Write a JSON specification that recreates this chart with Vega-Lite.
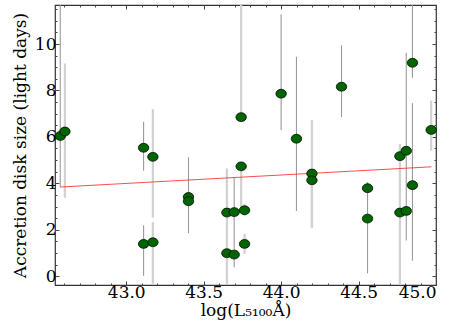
{
  "$schema": "https://vega.github.io/schema/vega-lite/v6.json",
  "width": 381,
  "height": 280,
  "autosize": {"type": "none"},
  "padding": {"left": 55, "top": 5, "right": 27, "bottom": 42},
  "background": "white",
  "config": {
    "view": {"stroke": "#333333", "strokeWidth": 1.2},
    "axis": {
      "grid": false,
      "domain": false,
      "tickColor": "#444444",
      "labelFont": "DejaVu Serif",
      "titleFont": "DejaVu Serif",
      "labelColor": "black",
      "titleColor": "black",
      "labelFontSize": 17,
      "titleFontSize": 17,
      "titleFontWeight": "normal"
    }
  },
  "datasets": {
    "pts": [
      {"x": 42.574, "y": 6.04, "lo": 3.84, "hi": 12.5, "bar": "dark"},
      {"x": 42.604, "y": 6.23, "lo": 3.38, "hi": 9.16, "bar": "light"},
      {"x": 43.112, "y": 5.53, "lo": 4.54, "hi": 6.65, "bar": "dark"},
      {"x": 43.172, "y": 5.14, "lo": 2.52, "hi": 7.19, "bar": "light"},
      {"x": 43.112, "y": 1.39, "lo": 0.02, "hi": 2.19, "bar": "dark"},
      {"x": 43.172, "y": 1.46, "lo": -1, "hi": 2.33, "bar": "light"},
      {"x": 43.402, "y": 3.41, "lo": 3.3, "hi": 5.12, "bar": "dark"},
      {"x": 43.402, "y": 3.23, "lo": 1.85, "hi": 3.3, "bar": "dark"},
      {"x": 43.65, "y": 2.74, "lo": 1.0, "hi": 4.64, "bar": "light"},
      {"x": 43.65, "y": 0.99, "lo": -1, "hi": 1.0, "bar": "light"},
      {"x": 43.697, "y": 2.76, "lo": 1.0, "hi": 4.25, "bar": "dark"},
      {"x": 43.697, "y": 0.93, "lo": 0.38, "hi": 1.0, "bar": "dark"},
      {"x": 43.764, "y": 2.84, "lo": 2.6, "hi": 3.1, "bar": "light"},
      {"x": 43.764, "y": 1.39, "lo": 0.96, "hi": 1.83, "bar": "light"},
      {"x": 43.742, "y": 4.73, "lo": 2.9, "hi": 4.9, "bar": "light"},
      {"x": 43.742, "y": 6.85, "lo": 6.85, "hi": 12.5, "bar": "light"},
      {"x": 44.0, "y": 7.86, "lo": 6.3, "hi": 11.28, "bar": "dark"},
      {"x": 44.099, "y": 5.92, "lo": 2.81, "hi": 9.45, "bar": "dark"},
      {"x": 44.199, "y": 4.42, "lo": 2.09, "hi": 6.73, "bar": "light"},
      {"x": 44.199, "y": 4.13, "lo": 2.09, "hi": 4.42, "bar": "light"},
      {"x": 44.39, "y": 8.16, "lo": 6.85, "hi": 9.94, "bar": "dark"},
      {"x": 44.558, "y": 3.79, "lo": 2.5, "hi": 4.06, "bar": "dark"},
      {"x": 44.558, "y": 2.48, "lo": 0.12, "hi": 2.6, "bar": "dark"},
      {"x": 44.767, "y": 5.17, "lo": 2.74, "hi": 5.69, "bar": "light"},
      {"x": 44.767, "y": 2.74, "lo": -1, "hi": 2.9, "bar": "light"},
      {"x": 44.808, "y": 5.4, "lo": 2.81, "hi": 9.62, "bar": "dark"},
      {"x": 44.808, "y": 2.81, "lo": 1.54, "hi": 2.9, "bar": "dark"},
      {"x": 44.848, "y": 9.19, "lo": 8.54, "hi": 12.5, "bar": "dark"},
      {"x": 44.848, "y": 3.92, "lo": 0.67, "hi": 7.45, "bar": "dark"},
      {"x": 44.969, "y": 6.3, "lo": 5.4, "hi": 7.57, "bar": "light"}
    ],
    "fit": [
      {"x": 42.574, "y": 3.84},
      {"x": 44.97, "y": 4.71}
    ]
  },
  "resolve": {"axis": {"x": "independent", "y": "independent"}},
  "layer": [
    {
      "data": {"name": "pts"},
      "transform": [{"filter": "datum.bar == 'light'"}],
      "mark": {"type": "rule", "clip": true, "color": "#d2d2d2", "strokeWidth": 2.3},
      "encoding": {
        "x": {"field": "x", "type": "quantitative",
              "scale": {"domain": [42.54, 45.0], "nice": false, "zero": false},
              "axis": {"orient": "bottom", "values": [43, 43.5, 44, 44.5, 45], "format": ".1f",
                       "tickSize": -4, "labelPadding": 3, "title": "log(L₅₁₀₀Å)", "titlePadding": 2}},
        "y": {"field": "lo", "type": "quantitative",
              "scale": {"domain": [-0.38, 11.68], "nice": false, "zero": false},
              "axis": {"orient": "left", "values": [0, 2, 4, 6, 8, 10], "tickSize": -4, "labelPadding": 3,
                       "title": "Accretion disk size (light days)", "titlePadding": 5}},
        "y2": {"field": "hi"}
      }
    },
    {
      "data": {"name": "pts"},
      "transform": [{"filter": "datum.bar == 'dark'"}],
      "mark": {"type": "rule", "clip": true, "color": "#9a9a9a", "strokeWidth": 1.1},
      "encoding": {
        "x": {"field": "x", "type": "quantitative",
              "scale": {"domain": [42.54, 45.0], "nice": false, "zero": false},
              "axis": {"orient": "top", "values": [43, 43.5, 44, 44.5, 45], "tickSize": -4, "labels": false, "title": null}},
        "y": {"field": "lo", "type": "quantitative",
              "scale": {"domain": [-0.38, 11.68], "nice": false, "zero": false},
              "axis": {"orient": "right", "values": [0, 2, 4, 6, 8, 10], "tickSize": -4, "labels": false, "title": null}},
        "y2": {"field": "hi"}
      }
    },
    {
      "data": {"name": "fit"},
      "mark": {"type": "line", "color": "#ff2020", "strokeWidth": 0.8},
      "encoding": {
        "x": {"field": "x", "type": "quantitative",
              "scale": {"domain": [42.54, 45.0], "nice": false, "zero": false},
              "axis": {"orient": "bottom", "values": [42.6, 42.7, 42.8, 42.9, 43.1, 43.2, 43.3, 43.4, 43.6, 43.7, 43.8, 43.9, 44.1, 44.2, 44.3, 44.4, 44.6, 44.7, 44.8, 44.9], "tickSize": -2, "labels": false, "title": null}},
        "y": {"field": "y", "type": "quantitative",
              "scale": {"domain": [-0.38, 11.68], "nice": false, "zero": false},
              "axis": {"orient": "left", "values": [0.5, 1, 1.5, 2.5, 3, 3.5, 4.5, 5, 5.5, 6.5, 7, 7.5, 8.5, 9, 9.5, 10.5, 11, 11.5], "tickSize": -2, "labels": false, "title": null}}
      }
    },
    {
      "data": {"name": "pts"},
      "mark": {"type": "point", "filled": true, "fill": "#006400", "fillOpacity": 1, "stroke": "black", "strokeWidth": 0.7, "opacity": 1,
               "shape": "M-1,0A1,0.85 0 1,0 1,0A1,0.85 0 1,0 -1,0Z", "size": 110},
      "encoding": {
        "x": {"field": "x", "type": "quantitative",
              "scale": {"domain": [42.54, 45.0], "nice": false, "zero": false},
              "axis": {"orient": "top", "values": [42.6, 42.7, 42.8, 42.9, 43.1, 43.2, 43.3, 43.4, 43.6, 43.7, 43.8, 43.9, 44.1, 44.2, 44.3, 44.4, 44.6, 44.7, 44.8, 44.9], "tickSize": -2, "labels": false, "title": null}},
        "y": {"field": "y", "type": "quantitative",
              "scale": {"domain": [-0.38, 11.68], "nice": false, "zero": false},
              "axis": {"orient": "right", "values": [0.5, 1, 1.5, 2.5, 3, 3.5, 4.5, 5, 5.5, 6.5, 7, 7.5, 8.5, 9, 9.5, 10.5, 11, 11.5], "tickSize": -2, "labels": false, "title": null}}
      }
    }
  ]
}
